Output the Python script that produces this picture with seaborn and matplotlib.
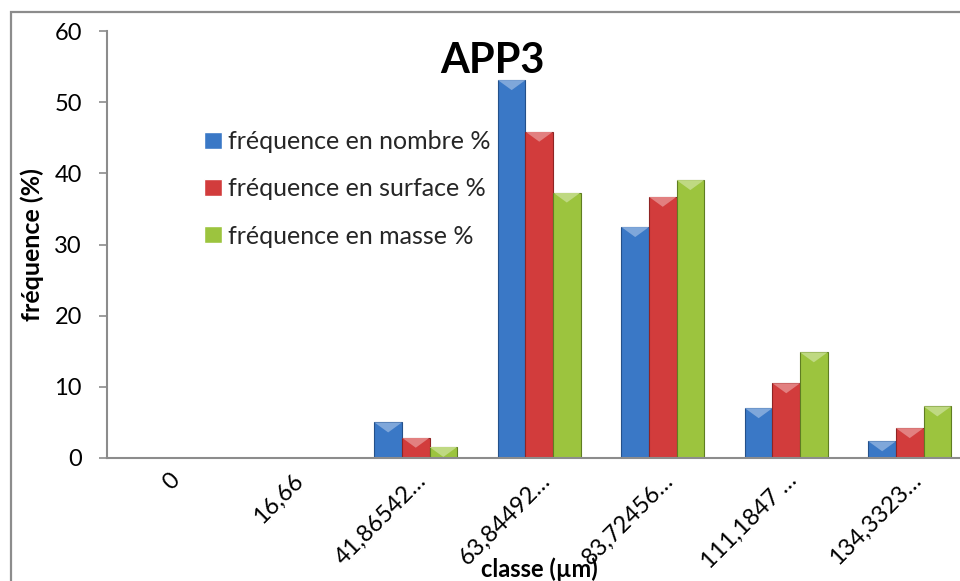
import matplotlib
matplotlib.use("Agg")
import matplotlib.pyplot as plt
from matplotlib.patches import Rectangle, Polygon
from matplotlib.transforms import ScaledTranslation
import matplotlib.colors as mcolors
import seaborn as sns
import pandas as pd

# Particle size classes (µm) and frequency distributions (%)
classes = ["0", "16,66", "41,86542…", "63,84492…", "83,72456…", "111,1847 …", "134,3323…"]
freq_nombre = [0.0, 0.0, 5.0, 53.1, 32.45, 7.0, 2.35]
freq_surface = [0.0, 0.0, 2.85, 45.85, 36.7, 10.5, 4.2]
freq_masse = [0.0, 0.0, 1.55, 37.3, 39.05, 14.85, 7.25]
series_names = ["fréquence en nombre %", "fréquence en surface %", "fréquence en masse %"]
colors = ["#3a78c6", "#d23c3c", "#9cc43e"]
edge_colors = ["#24508a", "#8e2424", "#5f7d22"]

df = pd.DataFrame({
    "classe": classes * 3,
    "frequence": freq_nombre + freq_surface + freq_masse,
    "serie": [series_names[0]] * len(classes) + [series_names[1]] * len(classes)
             + [series_names[2]] * len(classes),
})

sns.set_theme(style="white")
plt.rcParams["font.family"] = ["Lato", "DejaVu Sans"]

W, H = 960, 581
fig = plt.figure(figsize=(W / 100, H / 100), dpi=100)
fig.patch.set_facecolor("white")

# Plot area in pixel geometry
left, right, top, bottom = 107, 971.5, 31, 458
ax = fig.add_axes([left / W, 1 - bottom / H, (right - left) / W, (bottom - top) / H])

sns.barplot(data=df, x="classe", y="frequence", hue="serie", order=classes,
            hue_order=series_names, palette=colors, width=0.67, gap=0,
            saturation=1, ax=ax, legend=True)

ax.set_xlim(-0.5, len(classes) - 0.5)
ax.set_ylim(0, 60)
ax.set_yticks(range(0, 61, 10))

# outline and a light bevel facet on top of every bar
px_per_unit = (bottom - top) / 60.0
bevel = 10 / px_per_unit
for cont, col, ec in zip(ax.containers, colors, edge_colors):
    light = mcolors.to_rgb(col)
    light = tuple(min(1, c + (1 - c) * 0.35) for c in light)
    for bar in cont:
        bar.set_edgecolor(ec)
        bar.set_linewidth(0.8)
        h = bar.get_height()
        if h <= 0:
            continue
        x0 = bar.get_x()
        w = bar.get_width()
        tri = Polygon([(x0, h), (x0 + w, h), (x0 + w / 2, h - bevel)],
                      closed=True, facecolor=light, edgecolor="none",
                      zorder=bar.get_zorder() + 0.1)
        ax.add_patch(tri)
        tri.set_clip_path(bar)

axis_gray = "#8c8c8c"
for side in ["top", "right"]:
    ax.spines[side].set_visible(False)
for side in ["left", "bottom"]:
    ax.spines[side].set_color(axis_gray)
    ax.spines[side].set_linewidth(1.5)

ax.tick_params(axis="y", which="major", left=True, length=6, width=1.2,
               color=axis_gray, labelsize=17, pad=12, labelcolor="black")
ax.tick_params(axis="x", which="major", bottom=False, labelsize=17, pad=11,
               labelcolor="black")
shift = ScaledTranslation(12 / 100, 0, fig.dpi_scale_trans)
for lbl in ax.get_xticklabels():
    lbl.set_rotation(45)
    lbl.set_ha("right")
    lbl.set_va("baseline")
    lbl.set_rotation_mode("anchor")
    lbl.set_transform(lbl.get_transform() + shift)

ax.set_ylabel("fréquence (%)", fontsize=18, fontweight="bold", color="black")
ax.yaxis.set_label_coords((44 - left) / (right - left), 0.5)
ax.set_xlabel("classe (µm)", fontsize=17, fontweight="bold", color="black")
ax.xaxis.set_label_coords(0.5, -(569 - bottom) / (bottom - top))
ax.xaxis.label.set_va("center")

ax.text(492 / W, 1 - 61 / H, "APP3", transform=fig.transFigure, ha="center",
        va="center", fontsize=30, fontweight="bold", color="black")

handles, labels = ax.get_legend_handles_labels()
ax.legend(handles, labels, loc="upper left", frameon=False,
          bbox_to_anchor=(204 / W, 1 - 130 / H), bbox_transform=fig.transFigure,
          fontsize=18, handlelength=0.72, handleheight=0.67, handletextpad=0.25,
          labelspacing=0.97, borderaxespad=0, borderpad=0)

# outer chart frame
fig.add_artist(Rectangle((11 / W, -0.05), 1.1, 1 - 12 / H + 0.05,
                         transform=fig.transFigure, fill=False,
                         edgecolor=axis_gray, linewidth=1.6))

fig.savefig("out.png", dpi=100)
